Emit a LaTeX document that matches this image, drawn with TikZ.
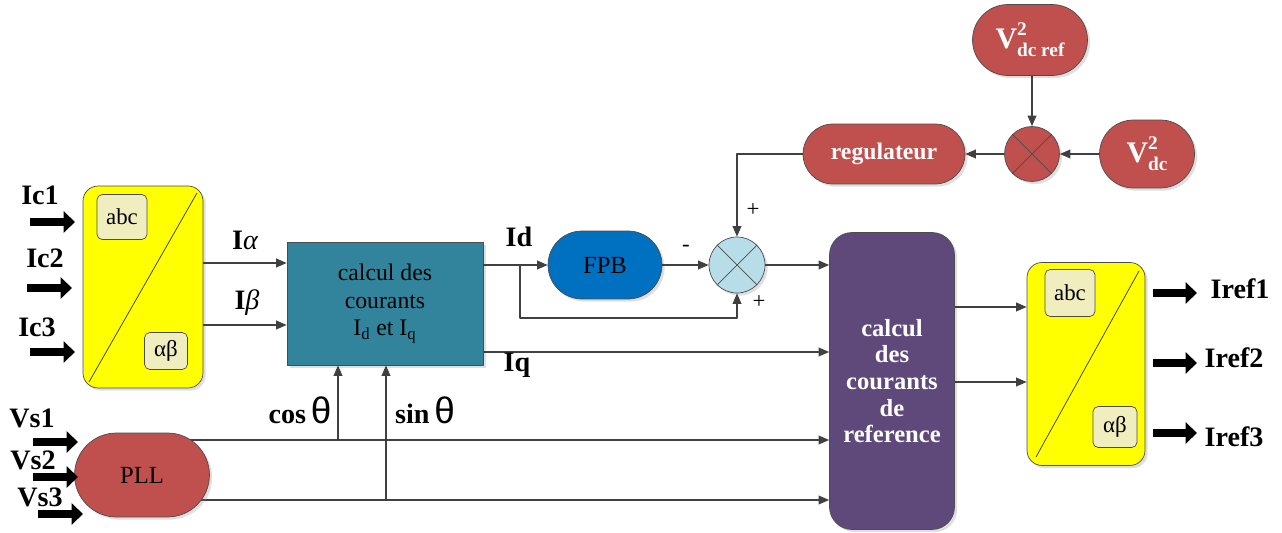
\documentclass[tikz,border=0pt]{standalone}
\usepackage{fontspec}
\setmainfont{Liberation Serif}
\newfontfamily\thetafont{Liberation Sans}
\usetikzlibrary{arrows.meta,shapes.misc,shadows,backgrounds}

\definecolor{yellowblk}{RGB}{255,255,0}
\definecolor{khaki}{RGB}{240,237,190}
\definecolor{tealblk}{RGB}{49,132,155}
\definecolor{blueblk}{RGB}{0,112,192}
\definecolor{redblk}{RGB}{192,80,77}
\definecolor{purpleblk}{RGB}{95,73,122}
\definecolor{sumblue}{RGB}{183,222,232}
\definecolor{wiregray}{RGB}{64,64,64}

\newcommand{\vsq}[1]{V{\fontsize{11}{12}\selectfont\rlap{\raisebox{7pt}{2}}\raisebox{-5pt}{#1}}}

\begin{document}
\begin{tikzpicture}[
    x = 0.02cm, y = -0.02cm,
    line join=round,
    wire/.style = {draw=wiregray, line width=0.7pt},
    conn/.style = {wire, -{Triangle[length=6pt,width=5pt]}},
    fat/.style = {line width=4.2pt, -{Triangle[length=6.5pt,width=12pt]}},
    blkshadow/.style = {drop shadow={opacity=0.25, shadow xshift=1.5pt, shadow yshift=-1.5pt}},
    pill/.style = {rounded rectangle, draw=black!70, thin, blkshadow, align=center, inner sep=0pt},
    conv/.style = {rectangle, rounded corners=0.3cm, draw=black!70, fill=yellowblk, thin, blkshadow, inner sep=0pt},
    tagbox/.style = {rectangle, rounded corners=3pt, draw=black!70, fill=khaki, thin, inner sep=0pt, font=\fontsize{13}{15}\selectfont},
    sumnode/.style = {circle, draw=black!70, thin, inner sep=0pt, blkshadow},
    lbl/.style = {font=\fontsize{16}{18}\selectfont\bfseries},
    sgn/.style = {font=\fontsize{13}{15}\selectfont}
]

\useasboundingbox (0,0) rectangle (1282,533);

% blocks
\node[conv, minimum width=2.4cm, minimum height=4.04cm] (convA) at (143,287) {};
\draw[thin, black!80] (197,193) -- (89,382);
\node[tagbox, minimum width=1cm, minimum height=0.9cm] (abcA) at (122,217) {abc};
\node[tagbox, minimum width=0.86cm, minimum height=0.74cm] (abA) at (166,351) {αβ};

\node[rectangle, draw=black!70, fill=tealblk, blkshadow, minimum width=3.92cm, minimum height=2.46cm,
      align=center, text=black, font=\fontsize{13.5}{15.5}\selectfont] (calc) at (385,303.5)
      {calcul des\\courants\\I\textsubscript{d} et I\textsubscript{q}};

\node[pill, fill=blueblk, minimum width=2.28cm, minimum height=1.36cm, font=\fontsize{14}{16}\selectfont] (fpb) at (605,265) {FPB};

\node[sumnode, fill=sumblue, minimum size=1.12cm] (sum) at (737,265) {};
\draw[black!70] (sum.north west) -- (sum.south east) (sum.north east) -- (sum.south west);

\node[pill, fill=redblk, text=white, minimum width=3.24cm, minimum height=1.2cm,
      font=\fontsize{13.5}{15}\selectfont\bfseries] (reg) at (884,154) {regulateur};
\node[sumnode, fill=redblk, minimum size=1.1cm] (err) at (1032,154) {};
\draw[black!70] (err.north west) -- (err.south east) (err.north east) -- (err.south west);
\node[pill, fill=redblk, text=white, minimum width=2.3cm, minimum height=1.42cm,
      font=\fontsize{17}{18}\selectfont\bfseries] (vref) at (1030,40) {\vsq{dc ref}};
\node[pill, fill=redblk, text=white, minimum width=1.9cm, minimum height=1.36cm,
      font=\fontsize{17}{18}\selectfont\bfseries] (vdc) at (1147,154) {\vsq{dc}};

\node[rectangle, rounded corners=0.45cm, draw=black!70, fill=purpleblk, blkshadow, text=white,
      minimum width=2.5cm, minimum height=5.94cm, align=center,
      font=\fontsize{14}{15.2}\selectfont\bfseries] (ref) at (892,381)
      {calcul\\des\\courants\\de\\reference};

\node[conv, minimum width=2.36cm, minimum height=4.06cm] (convB) at (1086,364) {};
\draw[thin, black!80] (1139,271) -- (1036,457);
\node[tagbox, minimum width=1cm, minimum height=0.94cm] (abcB) at (1070,293) {abc};
\node[tagbox, minimum width=0.88cm, minimum height=0.82cm] (abB) at (1115,427) {αβ};

\node[pill, fill=redblk, minimum width=2.7cm, minimum height=1.68cm, font=\fontsize{14}{16}\selectfont] (pll) at (142,475) {PLL};

% inputs and outputs
\node[lbl] (ic1) at (40,195) {Ic1};
\node[lbl] (ic2) at (45,258) {Ic2};
\node[lbl] (ic3) at (37,327) {Ic3};
\coordinate (in1) at (30,222);
\coordinate (in2) at (27,288);
\coordinate (in3) at (30,352);
\draw[fat] (in1) -- ++(45,0);
\draw[fat] (in2) -- ++(45,0);
\draw[fat] (in3) -- ++(45,0);

\node[lbl] (vs1) at (32,418) {Vs1};
\node[lbl] (vs2) at (33,460) {Vs2};
\node[lbl] (vs3) at (40,497) {Vs3};
\coordinate (vin1) at (33,442);
\coordinate (vin2) at (33,477);
\coordinate (vin3) at (38,514);
\draw[fat] (vin1) -- ++(45,0);
\draw[fat] (vin2) -- ++(45,0);
\draw[fat] (vin3) -- ++(45,0);

\coordinate (out1) at (1153,293);
\coordinate (out2) at (1153,363);
\coordinate (out3) at (1153,433);
\draw[fat] (out1) -- ++(44,0);
\draw[fat] (out2) -- ++(44,0);
\draw[fat] (out3) -- ++(44,0);
\node[lbl] (iref1) at (1240,289) {Iref1};
\node[lbl] (iref2) at (1234,358) {Iref2};
\node[lbl] (iref3) at (1234,437) {Iref3};

% connectors
\draw[conn] (convA.east |- 0,263) -- (calc.west |- 0,263);
\draw[conn] (convA.east |- 0,325) -- (calc.west |- 0,325);
\node[lbl] (ialpha) at (245,240) {I{\mdseries\itshape α}};
\node[lbl] (ibeta) at (247,303) {I{\mdseries\itshape β}};

\draw[conn] (calc.east |- fpb) -- (fpb.west);
\coordinate (idsplit) at (520,265);
\draw[conn] (idsplit) -- (idsplit |- 0,318) -| (sum.south);
\draw[conn] (fpb.east) -- (sum.west);
\draw[conn] (sum.east) -- (ref.west |- sum.east);
\draw[conn] (reg.west) -| (sum.north);
\node[lbl] (idlbl) at (519,237) {Id};
\node[sgn] (minus) at (686,248) {-};
\node[sgn] (plus1) at (753,210) {+};
\node[sgn] (plus2) at (759,302) {+};

\draw[conn] (err.north |- vref.south) -- (err.north);
\draw[conn] (vdc.west) -- (err.east);
\draw[conn] (err.west) -- (reg.east);

\draw[conn] (calc.east |- 0,352) -- (ref.west |- 0,352);
\node[lbl] (iqlbl) at (517,365) {Iq};

\begin{scope}[on background layer]
\draw[conn] (pll.center |- 0,440) -- (ref.west |- 0,440);
\draw[conn] (pll.center |- 0,500) -- (ref.west |- 0,500);
\end{scope}
\coordinate (costap) at (338,440);
\coordinate (sintap) at (386,500);
\draw[conn] (costap) -- (costap |- calc.south);
\draw[conn] (sintap) -- (sintap |- calc.south);
\node[lbl] (coslbl) at (300,410) {cos\,{\thetafont\mdseries\fontsize{21}{22}\selectfont θ}};
\node[lbl] (sinlbl) at (425,410) {sin\,{\thetafont\mdseries\fontsize{21}{22}\selectfont θ}};

\draw[conn] (ref.east |- 0,307) -- (convB.west |- 0,307);
\draw[conn] (ref.east |- 0,382) -- (convB.west |- 0,382);

\end{tikzpicture}
\end{document}
